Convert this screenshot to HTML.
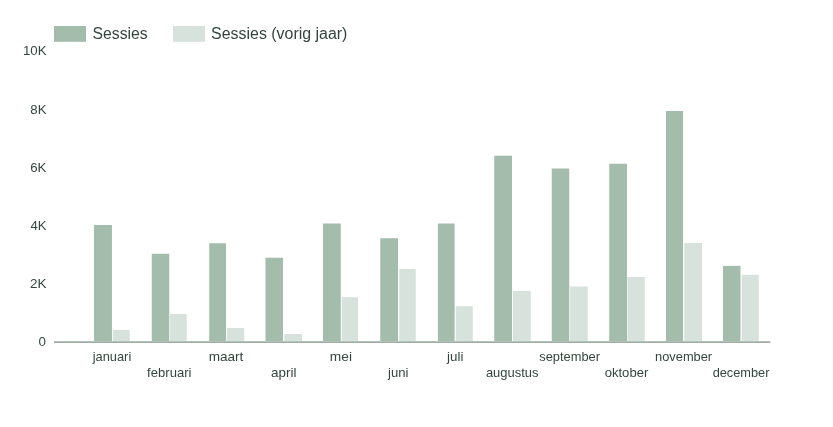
<!DOCTYPE html>
<html><head><meta charset="utf-8"><style>
html,body{margin:0;padding:0;background:#fff;width:833px;height:427px;overflow:hidden}
svg{display:block;will-change:transform}
text{font-family:"Liberation Sans",Arial,sans-serif;fill:#33453d}
</style></head><body>
<svg width="833" height="427" viewBox="0 0 833 427">
<rect x="0" y="0" width="833" height="427" fill="#fff"/>
<rect x="54" y="26" width="32" height="15.8" fill="#a3bcab"/>
<rect x="173" y="26" width="32" height="15.8" fill="#d7e2dc"/>
<g font-size="16">
<text x="92.56" y="39" textLength="55.17" lengthAdjust="spacingAndGlyphs">Sessies</text>
<text x="211.12" y="39" textLength="136.24" lengthAdjust="spacingAndGlyphs">Sessies (vorig jaar)</text>
</g>
<g font-size="13">
<text x="22.94" y="55" textLength="23.61" lengthAdjust="spacingAndGlyphs">10K</text>
<text x="30.29" y="114" textLength="16.18" lengthAdjust="spacingAndGlyphs">8K</text>
<text x="30.25" y="172" textLength="16.19" lengthAdjust="spacingAndGlyphs">6K</text>
<text x="30.59" y="230" textLength="16.01" lengthAdjust="spacingAndGlyphs">4K</text>
<text x="29.96" y="288" textLength="16.50" lengthAdjust="spacingAndGlyphs">2K</text>
<text x="38.51" y="346" textLength="7.44" lengthAdjust="spacingAndGlyphs">0</text>
</g>
<rect x="94.00" y="225" width="17.95" height="117.00" fill="#a3bcab"/>
<rect x="112.90" y="330" width="16.85" height="12.00" fill="#d7e2dc"/>
<rect x="151.75" y="253.75" width="17.50" height="88.25" fill="#a3bcab"/>
<rect x="170.00" y="314" width="16.75" height="28.00" fill="#d7e2dc"/>
<rect x="209.25" y="243.25" width="16.75" height="98.75" fill="#a3bcab"/>
<rect x="226.75" y="328" width="17.50" height="14.00" fill="#d7e2dc"/>
<rect x="265.50" y="257.75" width="17.50" height="84.25" fill="#a3bcab"/>
<rect x="284.25" y="334" width="17.75" height="8.00" fill="#d7e2dc"/>
<rect x="323.00" y="223.5" width="17.75" height="118.50" fill="#a3bcab"/>
<rect x="341.75" y="297.2" width="16.25" height="44.80" fill="#d7e2dc"/>
<rect x="380.25" y="238.25" width="17.75" height="103.75" fill="#a3bcab"/>
<rect x="399.25" y="269" width="16.45" height="73.00" fill="#d7e2dc"/>
<rect x="437.90" y="223.5" width="16.70" height="118.50" fill="#a3bcab"/>
<rect x="455.75" y="306.2" width="17.05" height="35.80" fill="#d7e2dc"/>
<rect x="494.25" y="155.7" width="17.75" height="186.30" fill="#a3bcab"/>
<rect x="513.00" y="291" width="17.75" height="51.00" fill="#d7e2dc"/>
<rect x="551.75" y="168.5" width="17.50" height="173.50" fill="#a3bcab"/>
<rect x="570.00" y="286.5" width="17.75" height="55.50" fill="#d7e2dc"/>
<rect x="609.25" y="163.75" width="17.75" height="178.25" fill="#a3bcab"/>
<rect x="627.50" y="277" width="17.25" height="65.00" fill="#d7e2dc"/>
<rect x="666.00" y="111" width="17.05" height="231.00" fill="#a3bcab"/>
<rect x="684.25" y="243" width="17.75" height="99.00" fill="#d7e2dc"/>
<rect x="723.00" y="265.9" width="17.50" height="76.10" fill="#a3bcab"/>
<rect x="741.70" y="274.8" width="17.10" height="67.20" fill="#d7e2dc"/>
<rect x="54" y="341" width="716.3" height="1" fill="#b3c3b8"/>
<rect x="54" y="342" width="716.3" height="1" fill="#a2aca7"/>
<g font-size="13">
<text x="92.76" y="361" textLength="38.49" lengthAdjust="spacingAndGlyphs">januari</text>
<text x="147.14" y="377.2" textLength="44.36" lengthAdjust="spacingAndGlyphs">februari</text>
<text x="208.69" y="361" textLength="34.68" lengthAdjust="spacingAndGlyphs">maart</text>
<text x="271.06" y="377.2" textLength="25.46" lengthAdjust="spacingAndGlyphs">april</text>
<text x="329.89" y="361" textLength="22.11" lengthAdjust="spacingAndGlyphs">mei</text>
<text x="388.12" y="377.2" textLength="20.40" lengthAdjust="spacingAndGlyphs">juni</text>
<text x="447.14" y="361" textLength="16.36" lengthAdjust="spacingAndGlyphs">juli</text>
<text x="485.90" y="377.2" textLength="52.67" lengthAdjust="spacingAndGlyphs">augustus</text>
<text x="539.23" y="361" textLength="60.81" lengthAdjust="spacingAndGlyphs">september</text>
<text x="604.67" y="377.2" textLength="43.66" lengthAdjust="spacingAndGlyphs">oktober</text>
<text x="655.08" y="361" textLength="57.06" lengthAdjust="spacingAndGlyphs">november</text>
<text x="712.65" y="377.2" textLength="56.83" lengthAdjust="spacingAndGlyphs">december</text>
</g>
</svg>
</body></html>
